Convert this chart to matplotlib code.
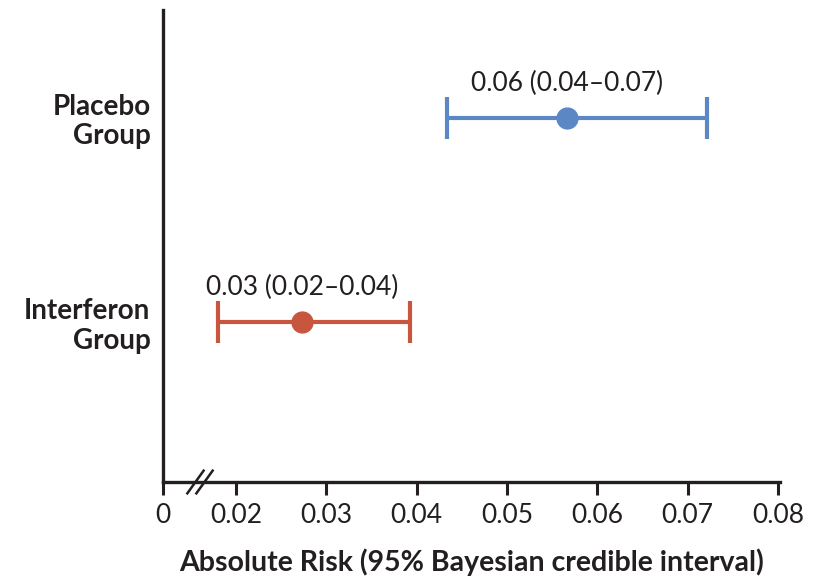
#!/usr/bin/env python3
"""Absolute risk with 95% Bayesian credible intervals, placebo vs interferon."""

import matplotlib

matplotlib.use("Agg")
import matplotlib.pyplot as plt

GROUPS = ["Interferon\nGroup", "Placebo\nGroup"]
ESTIMATES = [0.0273, 0.0567]
LOWER = [0.0180, 0.0434]
UPPER = [0.0393, 0.0722]
ANNOTATIONS = ["0.03 (0.02\u20130.04)", "0.06 (0.04\u20130.07)"]
COLORS = ["#c8553d", "#5b87c5"]
XTICKS = [0.02, 0.03, 0.04, 0.05, 0.06, 0.07, 0.08]
XTICK_LABELS = ["0.02", "0.03", "0.04", "0.05", "0.06", "0.07", "0.08"]

# broken axis: "0" sits closer than scale would put it
ZERO_POS = 0.0119
BREAK_POS = 0.0160
TEXT = "#231f20"

plt.rcParams["font.family"] = ["Lato", "DejaVu Sans"]

fig = plt.figure(figsize=(8.19, 5.80), dpi=100)
ax = fig.add_axes([0.199, 0.169, 0.753, 0.814])

for i in range(len(GROUPS)):
    ax.errorbar(
        ESTIMATES[i],
        i,
        xerr=[[ESTIMATES[i] - LOWER[i]], [UPPER[i] - ESTIMATES[i]]],
        fmt="o",
        color=COLORS[i],
        markersize=15,
        elinewidth=3,
        capsize=15,
        capthick=3,
    )
    ax.annotate(
        ANNOTATIONS[i],
        (ESTIMATES[i], i),
        xytext=(0, 16),
        textcoords="offset points",
        ha="center",
        va="bottom",
        fontsize=19,
        color=TEXT,
    )

ax.set_xlim(ZERO_POS, 0.0802)
ax.set_ylim(-0.784, 1.529)
ax.set_xticks([ZERO_POS] + XTICKS)
ax.set_xticklabels(["0"] + XTICK_LABELS, fontsize=19, color=TEXT)
ax.set_yticks(range(len(GROUPS)))
ax.set_yticklabels(GROUPS, fontsize=20, fontweight="bold", color=TEXT, ha="right",
                   linespacing=1.15)
ax.tick_params(axis="y", length=0, pad=9)
ax.tick_params(axis="x", length=9, width=2.2, color=TEXT, pad=6)

for side in ["top", "right"]:
    ax.spines[side].set_visible(False)
for side in ["left", "bottom"]:
    ax.spines[side].set_linewidth(2.4)
    ax.spines[side].set_color(TEXT)

# axis break marks
trans = ax.get_xaxis_transform()
for dx in (-0.0005, 0.0005):
    ax.plot(
        [BREAK_POS + dx - 0.0009, BREAK_POS + dx + 0.0009],
        [-0.024, 0.024],
        transform=trans,
        color=TEXT,
        lw=1.8,
        clip_on=False,
    )

ax.set_xlabel("Absolute Risk (95% Bayesian credible interval)", fontsize=20.5,
              fontweight="bold", color=TEXT, labelpad=15)

fig.savefig("out.png", dpi=100)
